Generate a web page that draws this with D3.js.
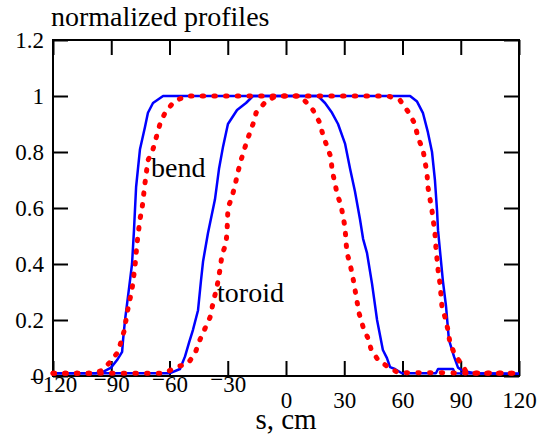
<!DOCTYPE html>
<html>
<head>
<meta charset="utf-8">
<script src="https://cdn.jsdelivr.net/npm/d3@7"></script>
<style>
  body { margin: 0; background: #fff; }
  svg text { font-family: "Liberation Serif", "Times New Roman", "DejaVu Serif", serif; fill: #000; }
</style>
</head>
<body>
<svg id="chart"></svg>
<script>
// s in cm, normalized profile value
const bendMeasured = [
  [-120, 0.01], [-98, 0.01], [-94.2, 0.015], [-90.1, 0.03], [-87.0, 0.057], [-84.4, 0.086],
  [-83.9, 0.13], [-82.9, 0.2], [-80.9, 0.31], [-79.3, 0.40], [-78.3, 0.52], [-77.2, 0.675],
  [-75.2, 0.81], [-72.6, 0.89], [-71.1, 0.94], [-68.5, 0.975], [-63.3, 1.0],
  [63.9, 1.0], [67.5, 0.98], [70.5, 0.94], [73.1, 0.87], [75.2, 0.80], [76.7, 0.70],
  [77.8, 0.59], [78.3, 0.52], [80.8, 0.34], [82.4, 0.25], [83.9, 0.13], [86.5, 0.07],
  [88.6, 0.03], [91.2, 0.018], [97.3, 0.01], [120, 0.008]
];
const bendModel = [
  [-120, 0.01], [-98.4, 0.01], [-94.7, 0.02], [-90.6, 0.05], [-86.5, 0.086], [-83.4, 0.16],
  [-81.4, 0.24], [-79.3, 0.31], [-77.8, 0.39], [-76.7, 0.475], [-75.2, 0.56], [-74.1, 0.60],
  [-72.6, 0.69], [-71.1, 0.77], [-68.5, 0.81], [-64.9, 0.90], [-62.3, 0.94], [-57.7, 0.98],
  [-51.5, 1.0], [52.5, 1.0], [58.7, 0.985], [63.3, 0.94], [66.4, 0.90], [68.0, 0.85],
  [70.5, 0.81], [72.6, 0.725], [73.1, 0.675], [75.2, 0.59], [76.7, 0.51], [77.2, 0.46],
  [78.3, 0.38], [79.3, 0.33], [80.3, 0.25], [81.9, 0.21], [83.4, 0.165], [84.4, 0.12],
  [87.0, 0.075], [91.1, 0.036], [92.7, 0.015], [97.3, 0.01], [120, 0.01]
];
const toroidMeasured = [
  [-120, 0.01], [-59.7, 0.01], [-54.6, 0.025], [-52.0, 0.07], [-49.9, 0.12], [-47.9, 0.165],
  [-45.3, 0.235], [-43.8, 0.34], [-42.7, 0.41], [-40.2, 0.51], [-36.6, 0.63], [-34.5, 0.74],
  [-32.4, 0.82], [-29.9, 0.90], [-25.2, 0.95], [-20.6, 0.975], [-17.0, 1.0],
  [16.5, 1.0], [20.1, 0.975], [23.7, 0.94], [26.8, 0.90], [30.4, 0.83], [33.0, 0.74],
  [35.5, 0.66], [38.1, 0.56], [39.7, 0.49], [41.7, 0.44], [44.3, 0.33], [46.9, 0.20],
  [49.9, 0.093], [52.0, 0.064], [53.6, 0.032], [56.1, 0.025], [59.7, 0.01], [77.2, 0.01],
  [78.3, 0.025], [86.0, 0.025], [87.0, 0.01], [120, 0.008]
];
const toroidModel = [
  [-120, 0.01], [-62.3, 0.01], [-57.2, 0.03], [-50.5, 0.045], [-46.9, 0.08], [-44.3, 0.13],
  [-41.7, 0.17], [-39.1, 0.21], [-37.6, 0.26], [-35.5, 0.32], [-34.0, 0.38], [-33.0, 0.43],
  [-30.9, 0.475], [-30.4, 0.51], [-29.9, 0.60], [-27.8, 0.64], [-26.3, 0.68], [-24.7, 0.73],
  [-23.2, 0.77], [-20.1, 0.84], [-17.0, 0.90], [-15.4, 0.94], [-9.8, 0.985], [-4.6, 1.0],
  [6.0, 1.0], [8.8, 0.99], [13.9, 0.95], [17.0, 0.91], [19.1, 0.86], [21.1, 0.82], [23.2, 0.78],
  [23.7, 0.735], [25.2, 0.69], [26.3, 0.65], [28.3, 0.61], [29.4, 0.57], [30.4, 0.53],
  [30.9, 0.48], [31.4, 0.44], [33.0, 0.40], [34.5, 0.35], [35.5, 0.31], [36.6, 0.265],
  [37.6, 0.225], [39.7, 0.175], [42.2, 0.135], [43.8, 0.096], [47.4, 0.057], [53.6, 0.028],
  [57.7, 0.012], [120, 0.01]
];
const xTicks = [-120, -90, -60, -30, 0, 30, 60, 90, 120];
const yTicks = [0, 0.2, 0.4, 0.6, 0.8, 1, 1.2];
const curveLabels = [["bend", -69.5, 0.71], ["toroid", -35.5, 0.265]];

const width = 549, height = 434;
const margin = {top: 40, right: 30, bottom: 58, left: 53};
const serif = "'Liberation Serif', 'Times New Roman', 'DejaVu Serif', serif";

const svg = d3.select("#chart").attr("width", width).attr("height", height)
  .style("font-family", serif);

const x = d3.scaleLinear().domain([-120, 120]).range([margin.left, width - margin.right]);
const y = d3.scaleLinear().domain([0, 1.2]).range([height - margin.bottom, margin.top]);

// axes with inward ticks on all four sides
const tick = -15;
const gBottom = svg.append("g").attr("transform", `translate(0,${y(0)})`)
  .call(d3.axisBottom(x).tickValues(xTicks).tickSize(tick).tickPadding(16).tickSizeOuter(0)
    .tickFormat(d => String(Math.abs(d))));
svg.append("g").attr("transform", `translate(0,${y(1.2)})`)
  .call(d3.axisTop(x).tickValues(xTicks).tickSize(tick).tickSizeOuter(0).tickFormat(""));
svg.append("g").attr("transform", `translate(${x(-120)},0)`)
  .call(d3.axisLeft(y).tickValues(yTicks).tickSize(tick).tickPadding(9).tickSizeOuter(0)
    .tickFormat(d => String(d)));
svg.append("g").attr("transform", `translate(${x(120)},0)`)
  .call(d3.axisRight(y).tickValues(yTicks).tickSize(tick).tickSizeOuter(0).tickFormat(""));

svg.selectAll(".domain").remove();
svg.selectAll("g").attr("font-family", null);
svg.selectAll(".tick line").attr("stroke", "#000").attr("stroke-width", 2);
svg.selectAll(".tick text").style("font-family", serif).attr("font-size", 23).attr("fill", "#000");

// raised minus sign in front of negative x labels
gBottom.selectAll(".tick text").each(function(d) {
  if (d < 0) {
    const t = d3.select(this).text("");
    t.append("tspan").attr("dy", "-0.2em").text("\u2212");
    t.append("tspan").attr("dy", "0.2em").text(Math.abs(d));
  }
});

// frame
svg.append("rect")
  .attr("x", x(-120)).attr("y", y(1.2))
  .attr("width", x(120) - x(-120)).attr("height", y(0) - y(1.2))
  .attr("fill", "none").attr("stroke", "#000").attr("stroke-width", 2);

const line = d3.line().x(d => x(d[0])).y(d => y(d[1]));

[bendMeasured, toroidMeasured].forEach(s => {
  svg.append("path").datum(s).attr("d", line)
    .attr("fill", "none").attr("stroke", "#0000ff").attr("stroke-width", 2.5)
    .attr("stroke-linejoin", "round");
});
[bendModel, toroidModel].forEach(s => {
  svg.append("path").datum(s).attr("d", line)
    .attr("fill", "none").attr("stroke", "#ff0000").attr("stroke-width", 5)
    .attr("stroke-linecap", "round").attr("stroke-dasharray", "1.5,10.2");
});

svg.selectAll(".clabel").data(curveLabels).join("text")
  .attr("class", "clabel")
  .attr("x", d => x(d[1])).attr("y", d => y(d[2]))
  .attr("font-size", 28)
  .style("font-family", serif)
  .text(d => d[0]);

svg.append("text").attr("x", 51).attr("y", 26).attr("font-size", 28)
  .style("font-family", serif).text("normalized profiles");
svg.append("text").attr("x", x(0)).attr("y", 429).attr("text-anchor", "middle")
  .attr("font-size", 29).style("font-family", serif).text("s, cm");
</script>
</body>
</html>
